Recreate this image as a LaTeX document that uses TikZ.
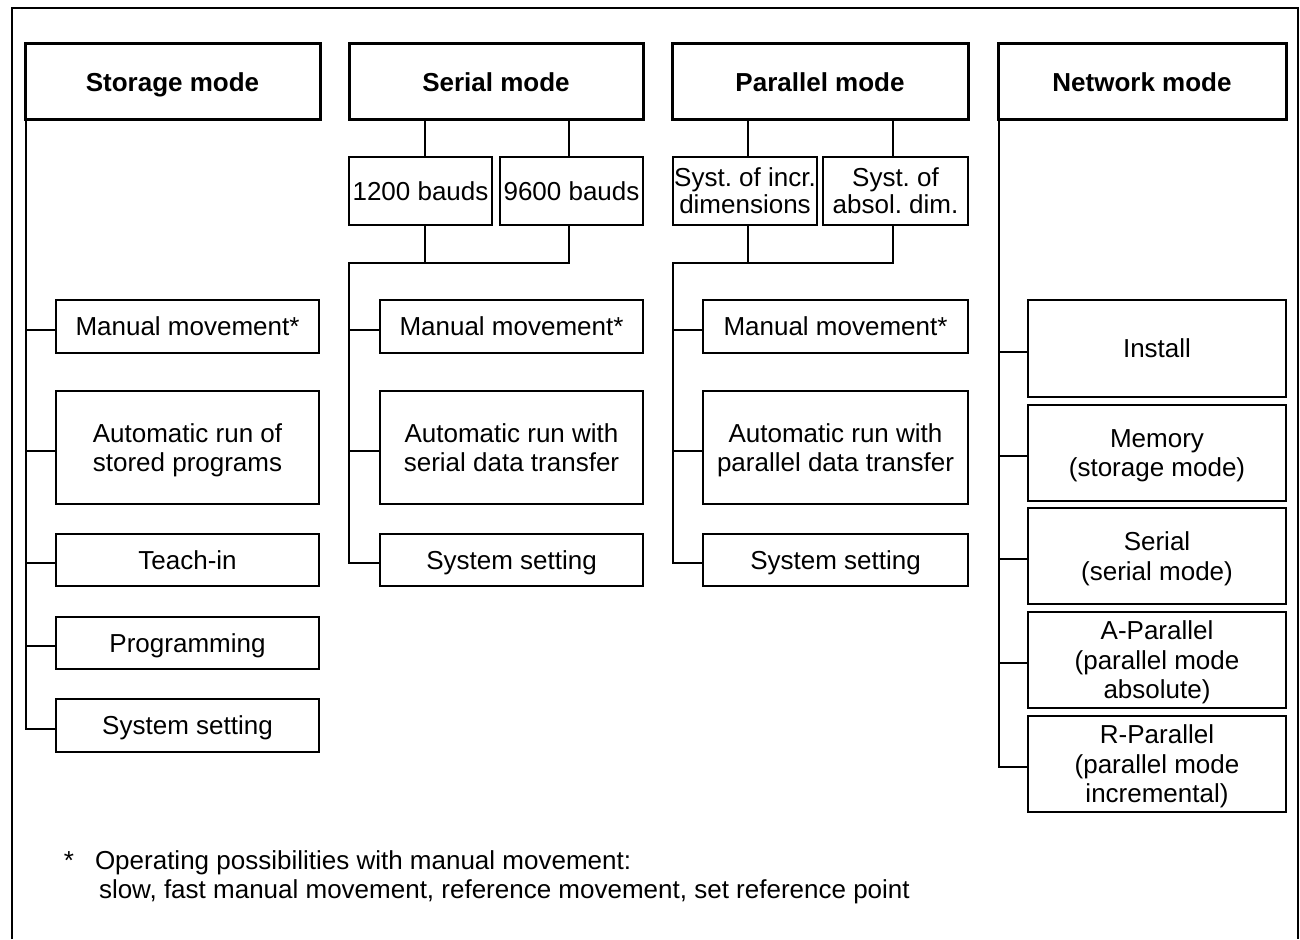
\documentclass[tikz,border=0pt]{standalone}
\usepackage{fontspec}
\setmainfont{Liberation Sans}
\begin{document}
\frenchspacing
\begin{tikzpicture}[x=1pt,y=-1pt,
  every node/.style={inner sep=0pt, outer sep=0pt},
  txt/.style={font=\fontsize{26}{29}\selectfont},
  hdr/.style={draw, line width=3pt, font=\fontsize{26}{29}\selectfont\bfseries, minimum height=76pt, text depth=0pt},
  box/.style={draw, line width=2pt, align=center, font=\fontsize{26}{29.5}\selectfont, text depth=0pt},
  subbox/.style={draw, line width=2pt, align=center, font=\fontsize{26}{27}\selectfont, minimum height=68pt},
  ln/.style={line width=2pt}]
\useasboundingbox (0,0) rectangle (1300,939);

% outer frame (open at the bottom)
\coordinate (fbl) at (11.5,939);
\coordinate (ftr) at (1298,8.5);
\coordinate (fbr) at (1298,939);
\draw[ln] (fbl) |- (ftr) -- (fbr);

% headers
\node[hdr, minimum width=295pt] (storage) at (172.5,82) {Storage mode};
\node[hdr, minimum width=294pt] (serial) at (496,82) {Serial mode};
\node[hdr, minimum width=296pt] (parallel) at (820,82) {Parallel mode};
\node[hdr, minimum width=288pt] (network) at (1142,82) {Network mode};

% serial sub boxes
\node[subbox, minimum width=143pt] (b1200) at (420.5,191) {1200 bauds};
\node[subbox, minimum width=143pt] (b9600) at (571.5,191) {9600 bauds};
% parallel sub boxes
\node[subbox, minimum width=144pt] (incr) at (745,191) {Syst. of incr.\\dimensions};
\node[subbox, minimum width=145pt] (absol) at (895.5,191) {Syst. of\\absol. dim.};

% storage children
\node[box, minimum width=263pt, minimum height=53pt] (sman) at (187.5,326.5) {Manual movement*};
\node[box, minimum width=263pt, minimum height=113pt] (sauto) at (187.5,447.5) {Automatic run of\\stored programs};
\node[box, minimum width=263pt, minimum height=52pt] (steach) at (187.5,560) {Teach-in};
\node[box, minimum width=263pt, minimum height=52pt] (sprog) at (187.5,643) {Programming};
\node[box, minimum width=263pt, minimum height=53pt] (ssys) at (187.5,725.5) {System setting};

% serial children
\node[box, minimum width=263pt, minimum height=53pt] (rman) at (511.5,326.5) {Manual movement*};
\node[box, minimum width=263pt, minimum height=113pt] (rauto) at (511.5,447.5) {Automatic run with\\serial data transfer};
\node[box, minimum width=263pt, minimum height=52pt] (rsys) at (511.5,560) {System setting};

% parallel children
\node[box, minimum width=265pt, minimum height=53pt] (pman) at (835.5,326.5) {Manual movement*};
\node[box, minimum width=265pt, minimum height=113pt] (pauto) at (835.5,447.5) {Automatic run with\\parallel data transfer};
\node[box, minimum width=265pt, minimum height=52pt] (psys) at (835.5,560) {System setting};

% network children
\node[box, minimum width=258pt, minimum height=97pt] (ninst) at (1157,348.5) {Install};
\node[box, minimum width=258pt, minimum height=96pt] (nmem) at (1157,453) {Memory\\(storage mode)};
\node[box, minimum width=258pt, minimum height=96pt] (nser) at (1157,556) {Serial\\(serial mode)};
\node[box, minimum width=258pt, minimum height=96pt] (napar) at (1157,660) {A-Parallel\\(parallel mode\\absolute)};
\node[box, minimum width=258pt, minimum height=96pt] (nrpar) at (1157,764) {R-Parallel\\(parallel mode\\incremental)};

% ---- connectors ----
% storage
\coordinate (strunk) at ([xshift=1pt]storage.south west);
\draw[ln] (strunk) |- ([yshift=-3pt]ssys.west);
\foreach \n in {sman,sauto,steach,sprog}
  \draw[ln] ([yshift=-3pt]\n.west) -- ([yshift=-3pt]\n.west -| strunk);

% serial
\coordinate (sbar) at (0,263);
\draw[ln] ([xshift=4pt]b1200.north) -- ([xshift=4pt]b1200.north |- serial.south);
\draw[ln] ([xshift=-3pt]b9600.north) -- ([xshift=-3pt]b9600.north |- serial.south);
\draw[ln] ([xshift=4pt]b1200.south) -- ([xshift=4pt]b1200.south |- sbar);
\draw[ln] ([xshift=-3pt]b9600.south) |- (sbar -| b1200.west) |- ([yshift=-3pt]rsys.west);
\foreach \n in {rman,rauto}
  \draw[ln] ([yshift=-3pt]\n.west) -- ([yshift=-3pt]\n.west -| b1200.west);

% parallel
\draw[ln] ([xshift=3pt]incr.north) -- ([xshift=3pt]incr.north |- parallel.south);
\draw[ln] ([xshift=-3pt]absol.north) -- ([xshift=-3pt]absol.north |- parallel.south);
\draw[ln] ([xshift=3pt]incr.south) -- ([xshift=3pt]incr.south |- sbar);
\draw[ln] ([xshift=-3pt]absol.south) |- (sbar -| incr.west) |- ([yshift=-3pt]psys.west);
\foreach \n in {pman,pauto}
  \draw[ln] ([yshift=-3pt]\n.west) -- ([yshift=-3pt]\n.west -| incr.west);

% network
\coordinate (ntrunk) at ([xshift=0.5pt]network.south west);
\draw[ln] (ntrunk) |- ([yshift=-3pt]nrpar.west);
\foreach \n in {ninst,nmem,nser,napar}
  \draw[ln] ([yshift=-3pt]\n.west) -- ([yshift=-3pt]\n.west -| ntrunk);

% footnote
\node[txt, anchor=base] (star) at (69,869) {*};
\node[txt, anchor=base west] (fn1) at (95,869) {Operating possibilities with manual movement:};
\node[txt, anchor=base west] (fn2) at (99,898) {slow, fast manual movement, reference movement, set reference point};
\end{tikzpicture}
\end{document}
